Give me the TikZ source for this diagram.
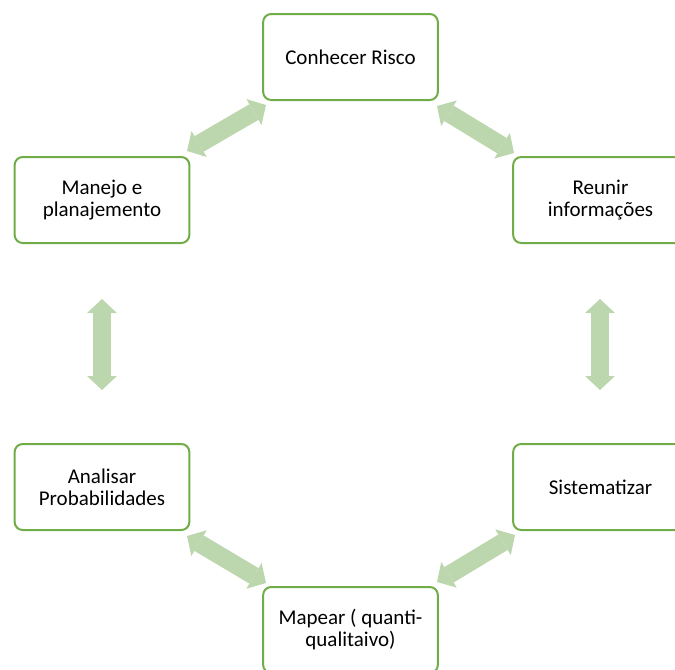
\documentclass[tikz,border=0pt]{standalone}
\usepackage{fontspec}
\setmainfont{Carlito}
\usetikzlibrary{arrows.meta}
\definecolor{verde}{HTML}{70AD47}
\definecolor{verdeclaro}{HTML}{BCD6AE}
\begin{document}
\begin{tikzpicture}[
  x=0.75pt, y=-0.75pt,
  etapa/.style={rectangle, rounded corners=6pt, draw=verde, line width=1.5pt, fill=white,
    minimum width=131pt, minimum height=64.5pt, align=center, inner sep=2pt,
    font=\fontsize{15.75}{16.5}\selectfont},
  seta/.style={draw=verdeclaro, line width=13.5pt,
    {Triangle[length=10.5pt, width=22.5pt, line width=0pt]}-{Triangle[length=10.5pt, width=22.5pt, line width=0pt]}},
]
\useasboundingbox (0,0) rectangle (675,669);
\clip (0,0) rectangle (675,669);
% etapas do ciclo
\node[etapa] (risco) at (350.5,57) {Conhecer Risco};
\node[etapa] (reunir) at (600.5,200) {Reunir\\informações};
\node[etapa] (sistem) at (600.5,487) {Sistematizar};
\node[etapa] (mapear) at (350.5,630) {Mapear ( quanti-\\qualitaivo)};
\node[etapa] (analisar) at (102,487) {Analisar\\Probabilidades};
\node[etapa] (manejo) at (102,200) {Manejo e\\planajemento};
% pontas das setas
\coordinate (s1a) at (187,151); \coordinate (s1b) at (266,105);
\coordinate (s2a) at (437,106); \coordinate (s2b) at (514,153);
\coordinate (s3a) at (600,299); \coordinate (s3b) at (600,390);
\coordinate (s4a) at (515,535); \coordinate (s4b) at (437,582);
\coordinate (s5a) at (266,583); \coordinate (s5b) at (187,536);
\coordinate (s6a) at (102,390); \coordinate (s6b) at (102,299);
\draw[seta] (s1a) -- (s1b);
\draw[seta] (s2a) -- (s2b);
\draw[seta] (s3a) -- (s3b);
\draw[seta] (s4a) -- (s4b);
\draw[seta] (s5a) -- (s5b);
\draw[seta] (s6a) -- (s6b);
\end{tikzpicture}
\end{document}
